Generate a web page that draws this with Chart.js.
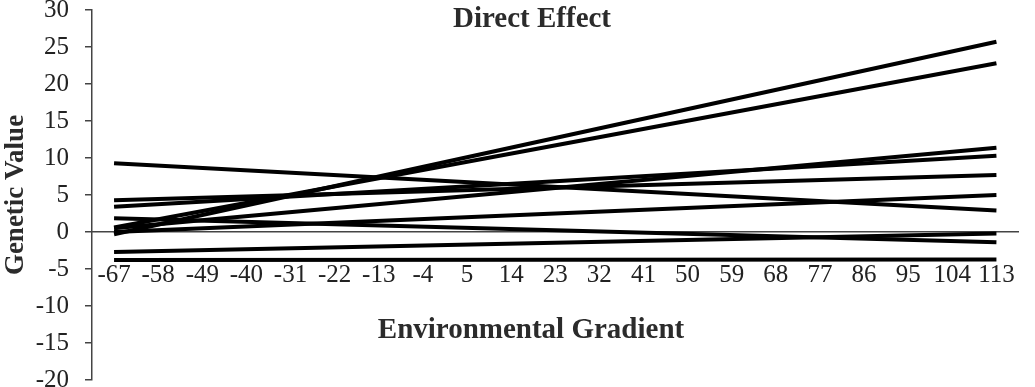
<!DOCTYPE html>
<html>
<head>
<meta charset="utf-8">
<script src="https://cdn.jsdelivr.net/npm/chart.js@4.4.1/dist/chart.umd.min.js"></script>
<style>
  html, body { margin: 0; padding: 0; background: #fff; }
  #wrap { width: 1035px; height: 387px; }
</style>
</head>
<body>
<div id="wrap"><canvas id="effectChart"></canvas></div>
<script>
// x axis tick labels (environmental gradient)
const gradientLabels = ['-67', '-58', '-49', '-40', '-31', '-22', '-13', '-4', '5', '14', '23',
                        '32', '41', '50', '59', '68', '77', '86', '95', '104', '113'];

// genetic value of each reaction norm at the two ends of the gradient
const valueAtStart = [9.3, 4.3, 3.4, 0.5, 0.0, -0.3, 0.6, 1.85, -2.7, -3.8];
const valueAtEnd   = [2.9, 7.7, 10.3, 11.4, 5.0, 25.7, 22.8, -1.4, -0.2, -3.7];

const serif = '"Liberation Serif", "Times New Roman", serif';
const firstLabel = gradientLabels[0];
const lastLabel = gradientLabels[gradientLabels.length - 1];

const datasets = valueAtStart.map((v, i) => ({
    label: 'Norm ' + (i + 1),
    data: [{ x: firstLabel, y: v }, { x: lastLabel, y: valueAtEnd[i] }],
    borderColor: '#000',
    borderWidth: 4,
    pointRadius: 0,
    fill: false,
    tension: 0
}));

// titles drawn inside the plot area, like the original figure
const textPlugin = {
    id: 'plotText',
    afterDraw(chart) {
        const ctx = chart.ctx;
        ctx.save();
        ctx.fillStyle = '#2b2b2b';
        ctx.font = 'bold 29px ' + serif;
        ctx.textAlign = 'center';
        ctx.textBaseline = 'middle';
        ctx.fillText('Direct Effect', 532, 20);
        ctx.fillText('Environmental Gradient', 531, 331);
        ctx.restore();
    }
};

new Chart(document.getElementById('effectChart'), {
    type: 'line',
    data: { labels: gradientLabels, datasets: datasets },
    options: {
        responsive: true,
        maintainAspectRatio: false,
        animation: false,
        layout: { padding: { top: 10, bottom: 7, right: 12, left: 0 } },
        plugins: {
            legend: { display: false },
            tooltip: { enabled: false }
        },
        scales: {
            x: {
                type: 'category',
                offset: true,
                position: { y: 0 },
                grid: { display: false },
                border: { display: true, color: '#444', width: 1.5 },
                ticks: {
                    autoSkip: false,
                    maxRotation: 0,
                    minRotation: 0,
                    padding: 20,
                    color: '#222',
                    font: { family: serif, size: 25 }
                }
            },
            y: {
                min: -20,
                max: 30,
                ticks: {
                    stepSize: 5,
                    padding: 16,
                    color: '#222',
                    font: { family: serif, size: 25 }
                },
                grid: {
                    drawOnChartArea: false,
                    drawTicks: true,
                    tickLength: 7,
                    color: '#444',
                    lineWidth: 1.5
                },
                border: { display: true, color: '#444', width: 1.5 },
                title: {
                    display: true,
                    text: 'Genetic Value',
                    color: '#2b2b2b',
                    padding: { top: 0, bottom: 0 },
                    font: { family: serif, size: 27, weight: 'bold' }
                },
                afterFit(scale) {
                    scale.width = 92;
                    scale.paddingTop = 0;
                    scale.paddingBottom = 0;
                }
            }
        }
    },
    plugins: [textPlugin]
});
</script>
</body>
</html>
